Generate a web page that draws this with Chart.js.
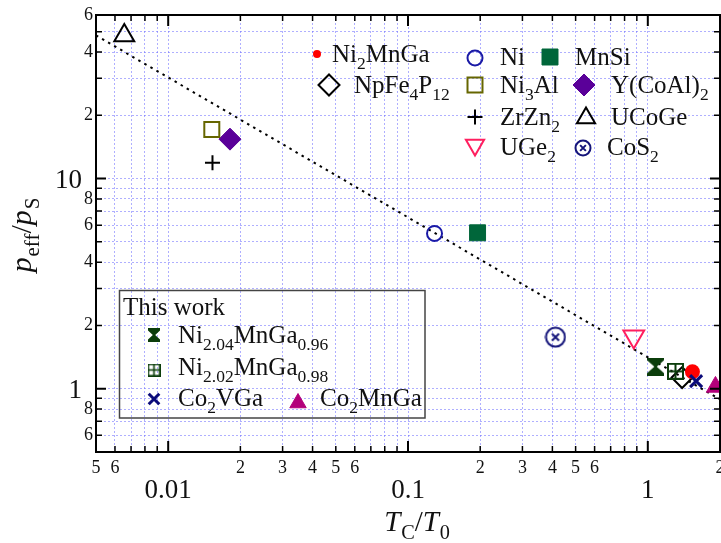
<!DOCTYPE html>
<html>
<head>
    <title>Deguchi-Takahashi plot</title>
    <script src="https://cdn.jsdelivr.net/npm/chart.js"></script>
    <style>
        body { margin: 0; background: #fff; }
    </style>
</head>
<body>
    <canvas id="dtChart" width="721" height="543"></canvas>

    <script>
        // values: TC/T0 and peff/ps for each compound
        var compounds = ['Ni2MnGa', 'NpFe4P12', 'Ni', 'Ni3Al', 'ZrZn2', 'UGe2', 'MnSi',
                         'Y(CoAl)2', 'UCoGe', 'CoS2', 'Ni2.04MnGa0.96', 'Ni2.02MnGa0.98',
                         'Co2VGa', 'Co2MnGa'];
        var tcOverT0   = [1.535, 1.39, 0.129, 0.0152, 0.0153, 0.874, 0.195,
                          0.0181, 0.00656, 0.412, 1.077, 1.304, 1.59, 1.915];
        var peffOverPs = [1.205, 1.13, 5.48, 17.1, 11.9, 1.77, 5.52,
                          15.4, 47.9, 1.76, 1.274, 1.211, 1.087, 1.02];

        // dotted theory line, end points read at the frame edges
        var lineX = [0.005, 2];
        var lineY = [48, 0.89];

        // tick labels
        var xMinorLabels = [0.005, 0.006, 0.02, 0.03, 0.04, 0.05, 0.06, 0.2, 0.3, 0.4, 0.5, 0.6, 2];
        var xMajorLabels = [0.01, 0.1, 1];
        var yMinorLabels = [0.6, 0.8, 2, 4, 6, 8, 20, 40, 60];
        var yMajorLabels = [1, 10];

        var SERIF = '"Liberation Serif", "Times New Roman", serif';

        function gridValues(lo, hi) {
            var out = [];
            for (var e = -3; e <= 2; e++) {
                for (var m = 1; m <= 9; m++) {
                    var v = e < 0 ? m / Math.pow(10, -e) : m * Math.pow(10, e);
                    if (v >= lo * 0.999 && v <= hi * 1.001) out.push(v);
                }
            }
            return out;
        }
        var xGrid = gridValues(0.005, 2);
        var yGrid = gridValues(0.5, 60);

        function near(a, b) { return Math.abs(a - b) < b * 1e-6; }
        function inList(v, list) { return list.some(function (w) { return near(v, w); }); }
        function isDecade(v) { return Math.abs(Math.log10(v) - Math.round(Math.log10(v))) < 1e-6; }
        function mantissa(v) { return String(Math.round(v / Math.pow(10, Math.floor(Math.log10(v) + 1e-9)))); }

        // custom markers
        function makeCanvas(w, h, draw) {
            var c = document.createElement('canvas');
            c.width = w; c.height = h;
            draw(c.getContext('2d'), w, h);
            return c;
        }
        function circleX(d, color) {
            return makeCanvas(d, d, function (g) {
                g.strokeStyle = color; g.lineWidth = 2;
                g.beginPath(); g.arc(d / 2, d / 2, d / 2 - 1.5, 0, Math.PI * 2); g.stroke();
                var a = d * 0.16;
                g.beginPath();
                g.moveTo(d / 2 - a, d / 2 - a); g.lineTo(d / 2 + a, d / 2 + a);
                g.moveTo(d / 2 + a, d / 2 - a); g.lineTo(d / 2 - a, d / 2 + a);
                g.stroke();
            });
        }
        function hourglass(w, h, color) {
            return makeCanvas(w, h, function (g) {
                var b = 2.5, n = 1.2;
                g.fillStyle = color;
                g.beginPath();
                g.moveTo(0, 0); g.lineTo(w, 0); g.lineTo(w, b);
                g.lineTo(w / 2 + n, h / 2); g.lineTo(w, h - b); g.lineTo(w, h);
                g.lineTo(0, h); g.lineTo(0, h - b); g.lineTo(w / 2 - n, h / 2); g.lineTo(0, b);
                g.closePath(); g.fill();
            });
        }
        function gridSquare(s, color, lw) {
            return makeCanvas(s, s, function (g) {
                g.strokeStyle = color; g.lineWidth = lw;
                g.strokeRect(lw / 2, lw / 2, s - lw, s - lw);
                g.beginPath();
                g.moveTo(s / 2, 0); g.lineTo(s / 2, s);
                g.moveTo(0, s / 2); g.lineTo(s, s / 2);
                g.stroke();
            });
        }

        var cos2Big = circleX(22, '#14147a');
        var cos2Small = circleX(18, '#14147a');
        var hourBig = hourglass(17, 18, '#0b3d0b');
        var hourSmall = hourglass(12, 14, '#0b3d0b');
        var gridBig = gridSquare(17, '#0b3d0b', 2);
        var gridSmall = gridSquare(13, '#0b3d0b', 1.6);

        // marker styles, same order as compounds
        var markerShape  = ['circle', 'rectRot', 'circle', 'rect', 'cross', 'triangle', 'rect',
                            'rectRot', 'triangle', cos2Big, hourBig, gridBig, 'crossRot', 'triangle'];
        var markerRadius = [7.5, 10.5, 7.5, 10.6, 7.5, 12, 11.3, 11, 11.5, 10, 9, 9, 8.5, 10.5];
        var markerRot    = [0, 0, 0, 0, 0, 180, 0, 0, 0, 0, 0, 0, 0, 0];
        var markerFill   = ['#ff0000', 'rgba(0,0,0,0)', 'rgba(0,0,0,0)', 'rgba(0,0,0,0)', '#000',
                            'rgba(0,0,0,0)', '#00663a', '#5a0099', 'rgba(0,0,0,0)', '#14147a',
                            '#0b3d0b', '#0b3d0b', '#0b0b7a', '#b3007a'];
        var markerLine   = ['#ff0000', '#000', '#1a1aa6', '#666600', '#000', '#ff1f5f', '#00663a',
                            '#5a0099', '#000', '#14147a', '#0b3d0b', '#0b3d0b', '#0b0b7a', '#b3007a'];
        var markerWidth  = [0, 2, 2, 2, 2, 2, 1, 1, 2, 2, 0, 0, 3, 1];
        var markerOrder  = [1, 3, 4, 4, 4, 4, 4, 4, 4, 4, 4, 2, 0, 4];

        var datasets = compounds.map(function (name, i) {
            return {
                label: name,
                data: [{ x: tcOverT0[i], y: peffOverPs[i] }],
                pointStyle: markerShape[i],
                pointRadius: markerRadius[i],
                pointRotation: markerRot[i],
                backgroundColor: markerFill[i],
                borderColor: markerLine[i],
                pointBorderWidth: markerWidth[i],
                order: markerOrder[i],
                clip: false
            };
        });
        datasets.push({
            label: 'theory',
            type: 'line',
            data: lineX.map(function (x, i) { return { x: x, y: lineY[i] }; }),
            showLine: true,
            borderColor: '#000',
            borderWidth: 2,
            borderDash: [2.5, 4.5],
            pointRadius: 0,
            order: 10
        });

        // legends, placed as in the figure
        var topLegend = [
            { ds: 0, mx: 317, my: 54, tx: 332, ty: 62, radius: 4, text: [['Ni'], ['2', 's'], ['MnGa']] },
            { ds: 1, mx: 329, my: 85, tx: 354, ty: 93, text: [['NpFe'], ['4', 's'], ['P'], ['12', 's']] },
            { ds: 2, mx: 475, my: 58, tx: 500, ty: 65, text: [['Ni']] },
            { ds: 3, mx: 475, my: 85, tx: 500, ty: 93, text: [['Ni'], ['3', 's'], ['Al']] },
            { ds: 4, mx: 475, my: 117, tx: 500, ty: 125, text: [['ZrZn'], ['2', 's']] },
            { ds: 5, mx: 475, my: 145, tx: 500, ty: 155, radius: 10.5, text: [['UGe'], ['2', 's']] },
            { ds: 6, mx: 550, my: 57, tx: 575, ty: 65, text: [['MnSi']] },
            { ds: 7, mx: 584, my: 85, tx: 611, ty: 93, text: [['Y(CoAl)'], ['2', 's']] },
            { ds: 8, mx: 586, my: 118, tx: 611, ty: 125, radius: 10.5, text: [['UCoGe']] },
            { ds: 9, mx: 583, my: 148, tx: 607, ty: 155, img: cos2Small, text: [['CoS'], ['2', 's']] }
        ];
        var workLegend = [
            { ds: 10, mx: 154, my: 335, tx: 178, ty: 343, img: hourSmall, text: [['Ni'], ['2.04', 's'], ['MnGa'], ['0.96', 's']] },
            { ds: 11, mx: 154, my: 370, tx: 178, ty: 375, img: gridSmall, text: [['Ni'], ['2.02', 's'], ['MnGa'], ['0.98', 's']] },
            { ds: 12, mx: 154, my: 399, tx: 178, ty: 406, radius: 7.5, text: [['Co'], ['2', 's'], ['VGa']] },
            { ds: 13, mx: 298, my: 403, tx: 320, ty: 406, radius: 9.5, text: [['Co'], ['2', 's'], ['MnGa']] }
        ];

        function drawRich(ctx, parts, x, y, size) {
            var cx = x;
            parts.forEach(function (p) {
                var sub = p[1] === 's', it = p[1] === 'i';
                ctx.font = (it ? 'italic ' : '') + (sub ? size * 0.7 : size) + 'px ' + SERIF;
                ctx.fillText(p[0], cx, y + (sub ? size * 0.27 : 0));
                cx += ctx.measureText(p[0]).width + (it ? size * 0.03 : 0);
            });
            return cx - x;
        }
        function richWidth(ctx, parts, size) {
            var w = 0;
            parts.forEach(function (p) {
                var sub = p[1] === 's', it = p[1] === 'i';
                ctx.font = (it ? 'italic ' : '') + (sub ? size * 0.7 : size) + 'px ' + SERIF;
                w += ctx.measureText(p[0]).width + (it ? size * 0.03 : 0);
            });
            return w;
        }

        function drawEntry(ctx, e) {
            var i = e.ds;
            var style = e.img || markerShape[i];
            ctx.save();
            ctx.fillStyle = markerFill[i];
            ctx.strokeStyle = markerLine[i];
            ctx.lineWidth = markerWidth[i];
            Chart.helpers.drawPoint(ctx, {
                pointStyle: style,
                radius: e.radius || markerRadius[i],
                rotation: markerRot[i],
                borderWidth: markerWidth[i]
            }, e.mx, e.my);
            ctx.restore();
            ctx.fillStyle = '#111';
            ctx.textAlign = 'left';
            ctx.textBaseline = 'alphabetic';
            drawRich(ctx, e.text, e.tx, e.ty, 25);
        }

        var decor = {
            id: 'decor',
            afterDraw: function (chart) {
                var ctx = chart.ctx, a = chart.chartArea;
                var xs = chart.scales.x, ys = chart.scales.y;
                ctx.save();

                // frame and inward ticks
                ctx.strokeStyle = '#000';
                xGrid.forEach(function (v) {
                    var px = xs.getPixelForValue(v), len = isDecade(v) ? 11 : 6;
                    ctx.lineWidth = isDecade(v) ? 2 : 1.5;
                    ctx.beginPath();
                    ctx.moveTo(px, a.bottom); ctx.lineTo(px, a.bottom - len);
                    ctx.moveTo(px, a.top); ctx.lineTo(px, a.top + len);
                    ctx.stroke();
                });
                yGrid.forEach(function (v) {
                    var py = ys.getPixelForValue(v), len = isDecade(v) ? 10 : 6;
                    ctx.lineWidth = isDecade(v) ? 2 : 1.5;
                    ctx.beginPath();
                    ctx.moveTo(a.left, py); ctx.lineTo(a.left + len, py);
                    ctx.moveTo(a.right, py); ctx.lineTo(a.right - len, py);
                    ctx.stroke();
                });
                ctx.lineWidth = 2;
                ctx.strokeRect(a.left, a.top, a.right - a.left, a.bottom - a.top);

                // x tick labels: small digits, then decades in the larger font
                ctx.fillStyle = '#111';
                ctx.textAlign = 'center';
                ctx.textBaseline = 'alphabetic';
                ctx.font = '18px ' + SERIF;
                xMinorLabels.forEach(function (v) {
                    ctx.fillText(mantissa(v), xs.getPixelForValue(v), 473);
                });
                ctx.font = '27px ' + SERIF;
                xMajorLabels.forEach(function (v) {
                    ctx.fillText(String(v), xs.getPixelForValue(v), 498);
                });
                ctx.textAlign = 'right';
                yMajorLabels.forEach(function (v) {
                    ctx.fillText(String(v), 82, ys.getPixelForValue(v) + 9);
                });

                // axis titles
                ctx.textAlign = 'left';
                var xt = [['T', 'i'], ['C', 's'], ['/'], ['T', 'i'], ['0', 's']];
                drawRich(ctx, xt, 417 - richWidth(ctx, xt, 29) / 2, 531, 29);
                var yt = [['p', 'i'], ['eff', 's'], ['/'], ['p', 'i'], ['S', 's']];
                ctx.save();
                ctx.translate(31, 235);
                ctx.rotate(-Math.PI / 2);
                drawRich(ctx, yt, -richWidth(ctx, yt, 30) / 2, 0, 30);
                ctx.restore();

                // legends
                topLegend.forEach(function (e) { drawEntry(ctx, e); });
                ctx.strokeStyle = '#444';
                ctx.lineWidth = 1.5;
                ctx.strokeRect(119.5, 290.5, 305.5, 127.5);
                ctx.fillStyle = '#111';
                drawRich(ctx, [['This work']], 123, 315, 25);
                workLegend.forEach(function (e) { drawEntry(ctx, e); });

                ctx.restore();
            }
        };

        var gridColor = 'rgba(110,110,255,0.55)';
        var ctx = document.getElementById('dtChart').getContext('2d');
        var chart = new Chart(ctx, {
            type: 'scatter',
            data: { datasets: datasets },
            options: {
                responsive: false,
                animation: false,
                layout: { autoPadding: false, padding: { top: 15, right: 1, bottom: 0, left: 0 } },
                plugins: { legend: { display: false }, tooltip: { enabled: false } },
                scales: {
                    x: {
                        type: 'logarithmic',
                        min: 0.005,
                        max: 2,
                        afterBuildTicks: function (s) { s.ticks = xGrid.map(function (v) { return { value: v }; }); },
                        afterFit: function (s) { s.height = 91; },
                        grid: { color: gridColor, lineWidth: 1, drawTicks: false },
                        border: { display: false, dash: [2, 2] },
                        ticks: { display: false }
                    },
                    y: {
                        type: 'logarithmic',
                        min: 0.5,
                        max: 60,
                        afterBuildTicks: function (s) { s.ticks = yGrid.map(function (v) { return { value: v }; }); },
                        afterFit: function (s) { s.width = 96; },
                        grid: { color: gridColor, lineWidth: 1, drawTicks: false },
                        border: { display: false, dash: [2, 2] },
                        ticks: {
                            autoSkip: false,
                            padding: 3,
                            color: '#111',
                            font: { family: SERIF, size: 18 },
                            callback: function (v) { return inList(v, yMinorLabels) ? mantissa(v) : ''; }
                        }
                    }
                }
            },
            plugins: [decor]
        });
    </script>
</body>
</html>
